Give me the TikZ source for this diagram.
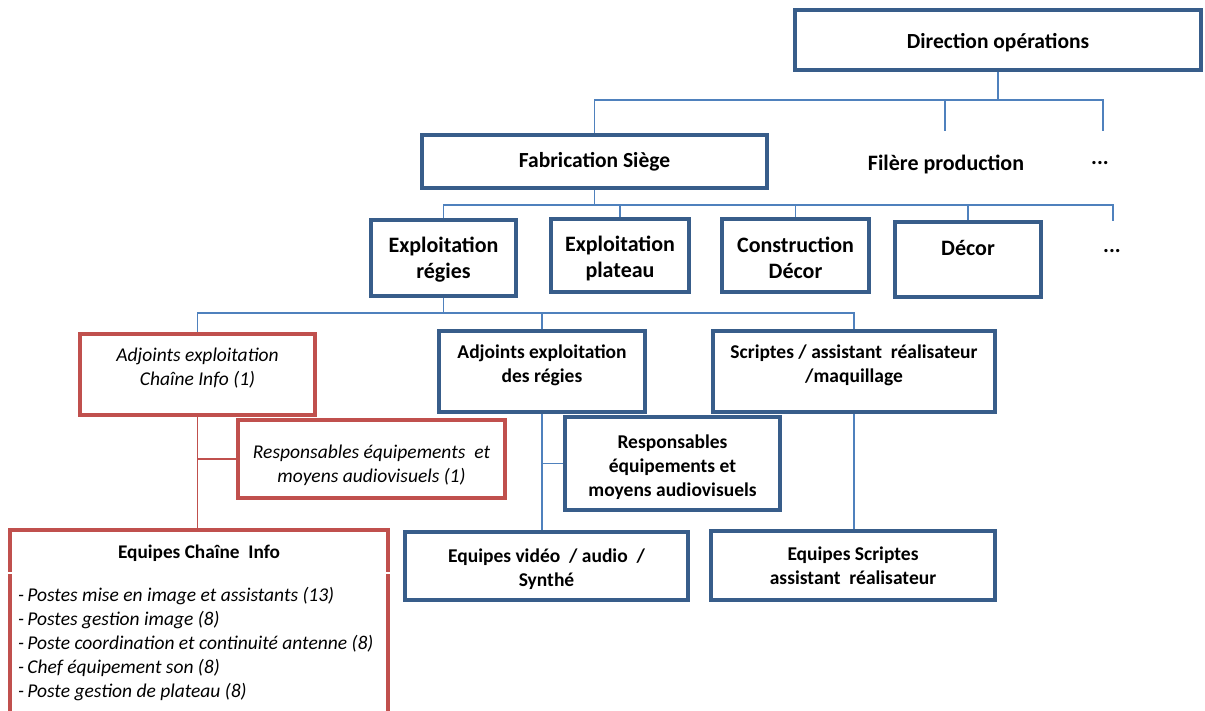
\documentclass[tikz,border=0pt]{standalone}
\usepackage{fontspec}
\setmainfont{Carlito}
\definecolor{boxblue}{RGB}{56,93,138}
\definecolor{linkblue}{RGB}{79,129,189}
\definecolor{boxred}{RGB}{192,80,77}
\begin{document}
\begin{tikzpicture}[x=1pt,y=-1pt,
  bx/.style={draw=boxblue, line width=3.6pt, fill=white, inner sep=0pt},
  rbx/.style={draw=boxred, line width=3.6pt, fill=white, inner sep=0pt},
  bt/.style={align=center, inner sep=0pt, font=\bfseries\fontsize{#1}{24}\selectfont},
  bt/.default=21.5,
  bt2/.style={align=center, inner sep=0pt, font=\bfseries\fontsize{22}{26}\selectfont},
  it/.style={align=center, inner sep=0pt, font=\itshape\fontsize{19.5}{24}\selectfont},
  conn/.style={draw=linkblue, line width=1.4pt},
  rconn/.style={draw=boxred, line width=1.4pt},
  lbl/.style={font=\bfseries\fontsize{22}{24}\selectfont, inner sep=0pt}]
\clip (0,0) rectangle (1205,711);
\fill[white] (0,0) rectangle (1205,711);

% level 1
\node[bx, minimum width=406pt, minimum height=60pt] (dir) at (998,40) {};
\node[bt] (dirT) at ([yshift=-3pt]dir.center) {Direction opérations};
% level 2
\node[bx, minimum width=345pt, minimum height=53pt] (fab) at (594.5,161.5) {};
\node[bt] (fabT) at (fab.center) {Fabrication Siège};
\node[lbl] (fil) at (946,164) {Filère production};
\node[lbl] (dots1) at (1100,163) {...};
\coordinate (filtop) at (945,131);
\coordinate (dots1top) at (1103,131);
\coordinate (bus1) at (0,100);

% level 3
\node[bx, minimum width=145pt, minimum height=76pt] (reg) at (443.5,258) {};
\node[bt2] (regT) at ([yshift=-2pt]reg.center) {Exploitation\\régies};
\node[bx, minimum width=138pt, minimum height=73pt] (pla) at (620,255.5) {};
\node[bt2] (plaT) at ([yshift=-3pt]pla.center) {Exploitation\\plateau};
\node[bx, minimum width=147pt, minimum height=73pt] (con) at (795.5,255.5) {};
\node[bt2] (conT) at ([yshift=-2pt]con.center) {Construction\\Décor};
\node[bx, minimum width=146pt, minimum height=75pt] (dec) at (968,259.5) {};
\node[bt2] (decT) at (968,248) {Décor};
\node[lbl] (dots2) at (1112,251) {...};
\coordinate (dots2top) at (1113,221);
\coordinate (bus2) at (0,205);

% level 4
\node[rbx, minimum width=235pt, minimum height=81pt] (adjci) at (197.5,374.5) {};
\node[it] (adjciT) at ([yshift=6pt]adjci.center) {Adjoints exploitation\\Chaîne Info (1)};
\node[bx, minimum width=206pt, minimum height=81pt] (adjr) at (542,371.5) {};
\node[bt=19.5] (adjrT) at ([yshift=6pt]adjr.center) {Adjoints exploitation\\des régies};
\node[bx, minimum width=282pt, minimum height=81pt] (scr) at (854,371.5) {};
\node[bt=19.5] (scrT) at ([yshift=6pt]scr.center) {Scriptes / assistant\ \ réalisateur\\/maquillage};
\coordinate (bus3) at (0,313);

% level 5
\node[rbx, minimum width=267pt, minimum height=78pt] (respr) at (371.5,459) {};
\node[it] (resprT) at ([yshift=-6pt]respr.center) {Responsables équipements\ \ et\\moyens audiovisuels (1)};
\node[bx, minimum width=215pt, minimum height=93pt] (respb) at (672.5,463.5) {};
\node[bt=19.5] (respbT) at ([yshift=-4pt]respb.center) {Responsables\\équipements et\\moyens audiovisuels};

% level 6
\node[bx, minimum width=283pt, minimum height=68pt] (eqv) at (546.5,566) {};
\node[bt=19.5] (eqvT) at ([yshift=-3pt]eqv.center) {Equipes vidéo\ \ /\ audio\ \ /\\Synthé};
\node[bx, minimum width=284pt, minimum height=69pt] (eqs) at (853,565.5) {};
\node[bt=19.5] (eqsT) at (eqs.center) {Equipes Scriptes\\assistant\ \ réalisateur};
\node[rbx, minimum width=378pt, minimum height=220pt] (eci) at (199,640) {};
\fill[white] (4,571.5) rectangle (16,573.5);
\fill[white] (382,571.5) rectangle (394,573.5);
\node[bt=19.3] (ecit) at (199,553) {Equipes Chaîne\ \ Info};
\node[anchor=north west, align=left, inner sep=0pt, font=\itshape\fontsize{19.5}{24}\selectfont] (ecil) at (18,587)
 {-\,Postes\ mise\ en\ image\ et\ assistants\ (13)\\
  -\,Postes\ gestion\ image (8)\\
  -\,Poste\ coordination\ et continuité\ antenne\ (8)\\
  -\,Chef équipement\ son\ (8)\\
  -\,Poste\ gestion\ de\ plateau\ (8)};

% connectors level 1-2
\draw[conn] (dir.south) -- (dir.south |- bus1);
\draw[conn] (fab.north) -- (fab.north |- bus1) -- (dots1top |- bus1) -- (dots1top);
\draw[conn] (filtop |- bus1) -- (filtop);
% level 2-3
\draw[conn] (fab.south) -- (fab.south |- bus2);
\draw[conn] (reg.north) -- (reg.north |- bus2) -- (dots2top |- bus2) -- (dots2top);
\draw[conn] (pla.north) -- (pla.north |- bus2);
\draw[conn] (con.north) -- (con.north |- bus2);
\draw[conn] (dec.north) -- (dec.north |- bus2);
% level 3-4
\draw[conn] (reg.south) -- (reg.south |- bus3);
\draw[conn] (adjci.north) -- (adjci.north |- bus3) -- (scr.north |- bus3) -- (scr.north);
\draw[conn] (adjr.north) -- (adjr.north |- bus3);
% below
\draw[conn] (adjr.south) -- (adjr.south |- eqv.north);
\draw[conn] (adjr.south |- respb.west) -- (respb.west);
\draw[conn] (scr.south) -- (scr.south |- eqs.north);
\draw[rconn] (adjci.south) -- (adjci.south |- eci.north);
\draw[rconn] (adjci.south |- respr.west) -- (respr.west);
\end{tikzpicture}
\end{document}
